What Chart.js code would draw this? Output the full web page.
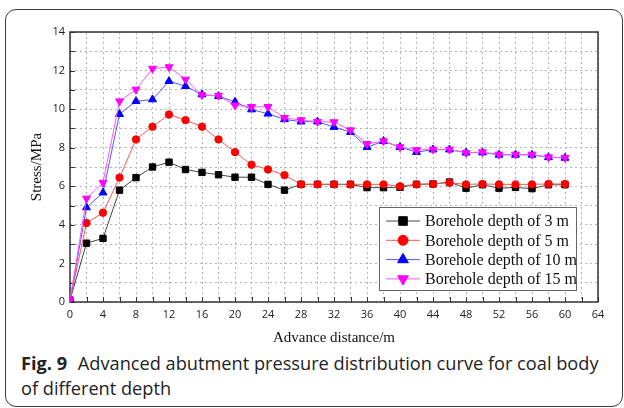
<!DOCTYPE html>
<html>
<head>
<meta charset="utf-8">
<script src="https://cdn.jsdelivr.net/npm/chart.js@4.4.0/dist/chart.umd.min.js"></script>
<style>
  body { margin: 0; background: #fff; }
  #wrap { position: relative; width: 624px; height: 408px; overflow: hidden; }
  #frame { position: absolute; left: 5px; top: 9px; width: 616px; height: 396px;
           border: 1.3px solid #3a3a3a; border-radius: 11px; }
  #chartBox { position: absolute; left: 0; top: 0; width: 624px; height: 350px; }
  #caption { position: absolute; left: 21px; top: 351px; width: 610px; white-space: nowrap;
             font-family: "Open Sans", sans-serif; font-size: 18.2px; line-height: 25px; color: #222; }
  #caption b { font-weight: 700; margin-right: 6px; }
</style>
</head>
<body>
<div id="wrap">
  <div id="frame"></div>
  <div id="chartBox"><canvas id="c" width="624" height="350"></canvas></div>
  <div id="caption"><b>Fig. 9</b> Advanced abutment pressure distribution curve for coal body<br>of different depth</div>
</div>
<script>
const distance = [0, 2, 4, 6, 8, 10, 12, 14, 16, 18, 20, 22, 24, 26, 28, 30,
  32, 34, 36, 38, 40, 42, 44, 46, 48, 50, 52, 54, 56, 58, 60];
const depth3 = [0.1, 3.05, 3.3, 5.8, 6.45, 7.0, 7.25, 6.87, 6.72, 6.6, 6.47, 6.47, 6.1, 5.8, 6.1, 6.1,
  6.1, 6.1, 5.93, 5.93, 5.95, 6.1, 6.12, 6.22, 5.9, 6.08, 5.9, 5.94, 5.88, 6.08, 6.08];
const depth5 = [0.1, 4.1, 4.63, 6.45, 8.43, 9.09, 9.72, 9.43, 9.09, 8.43, 7.77, 7.12, 6.87, 6.58, 6.1, 6.1,
  6.1, 6.1, 6.1, 6.1, 6.0, 6.1, 6.12, 6.18, 6.1, 6.12, 6.1, 6.1, 6.1, 6.12, 6.12];
const depth10 = [0.1, 4.9, 5.67, 9.74, 10.41, 10.5, 11.45, 11.19, 10.76, 10.67, 10.38, 9.98, 9.76, 9.47, 9.35, 9.35,
  9.07, 8.81, 8.03, 8.34, 8.03, 7.77, 7.9, 7.9, 7.74, 7.75, 7.63, 7.63, 7.63, 7.5, 7.47];
const depth15 = [0.1, 5.37, 6.19, 10.41, 11.02, 12.1, 12.18, 11.54, 10.73, 10.7, 10.2, 10.12, 10.12, 9.55, 9.43, 9.35,
  9.33, 8.91, 8.2, 8.34, 8.03, 7.88, 7.91, 7.91, 7.74, 7.77, 7.65, 7.65, 7.65, 7.51, 7.48];
const seriesLabels = ['Borehole depth of 3 m', 'Borehole depth of 5 m', 'Borehole depth of 10 m', 'Borehole depth of 15 m'];

const toPoints = (ys) => distance.map((x, i) => ({ x: x, y: ys[i] }));

const makeSet = (label, ys, line, fill, style, radius, rotation, order) => ({
  label: label,
  data: toPoints(ys),
  borderColor: line,
  borderWidth: 1,
  pointStyle: style,
  pointRotation: rotation,
  pointRadius: radius,
  pointBackgroundColor: fill,
  pointBorderColor: fill,
  pointBorderWidth: 1,
  order: order,
  tension: 0,
});

// ticks pointing into the plot, plus the plot frame
const frameTicks = {
  id: 'frameTicks',
  beforeDatasetsDraw(chart) {
    const { ctx, chartArea: a, scales } = chart;
    ctx.save();
    ctx.strokeStyle = '#333';
    ctx.lineWidth = 1;
    ctx.beginPath();
    scales.x.ticks.forEach(t => {
      const px = Math.round(scales.x.getPixelForValue(t.value)) + 0.5;
      ctx.moveTo(px, a.bottom); ctx.lineTo(px, a.bottom - 5);
    });
    scales.y.ticks.forEach(t => {
      const py = Math.round(scales.y.getPixelForValue(t.value)) + 0.5;
      ctx.moveTo(a.left, py); ctx.lineTo(a.left + 5, py);
    });
    ctx.stroke();
    ctx.lineWidth = 1.5;
    ctx.strokeRect(a.left, a.top, a.right - a.left, a.bottom - a.top);
    ctx.restore();
  }
};

// legend box inside the plot, lower right
const boxLegend = {
  id: 'boxLegend',
  afterDraw(chart) {
    const { ctx, chartArea: a } = chart;
    const left = a.right - 219, top = a.bottom - 95, w = 197, h = 83;
    ctx.save();
    ctx.fillStyle = '#fff';
    ctx.fillRect(left, top, w, h);
    ctx.strokeStyle = '#666';
    ctx.lineWidth = 1;
    ctx.strokeRect(left + 0.5, top + 0.5, w, h);
    ctx.font = '16px "Liberation Serif", "Times New Roman", serif';
    ctx.textBaseline = 'middle';
    chart.data.datasets.forEach((ds, i) => {
      const y = top + 14 + i * 19.3;
      ctx.strokeStyle = ds.borderColor;
      ctx.lineWidth = 1;
      ctx.beginPath();
      ctx.moveTo(left + 7, y); ctx.lineTo(left + 41, y);
      ctx.stroke();
      ctx.fillStyle = ds.pointBackgroundColor;
      ctx.strokeStyle = ds.pointBorderColor;
      Chart.helpers.drawPoint(ctx, {
        pointStyle: ds.pointStyle, rotation: ds.pointRotation,
        radius: ds.pointRadius * 1.35, borderWidth: 1
      }, left + 24, y);
      ctx.fillStyle = '#111';
      ctx.fillText(ds.label, left + 46, y + 1);
    });
    ctx.restore();
  }
};

const tickFont = { family: '"Open Sans", sans-serif', size: 11 };
const titleFont = { family: '"Liberation Serif", "Times New Roman", serif', size: 15 };

new Chart(document.getElementById('c'), {
  type: 'line',
  data: {
    datasets: [
      makeSet(seriesLabels[0], depth3, '#444', '#000', 'rect', 4.5, 0, 3),
      makeSet(seriesLabels[1], depth5, '#ff5555', '#ff0000', 'circle', 3.7, 0, 2),
      makeSet(seriesLabels[2], depth10, '#5555ff', '#0000ff', 'triangle', 4.6, 0, 1),
      makeSet(seriesLabels[3], depth15, '#ff55ff', '#ff00ff', 'triangle', 4.6, 180, 0),
    ]
  },
  options: {
    responsive: false,
    animation: false,
    layout: { padding: { top: 32, right: 26, left: 0, bottom: 0 } },
    plugins: { legend: { display: false }, tooltip: { enabled: false } },
    scales: {
      x: {
        type: 'linear', min: 0, max: 64,
        afterFit: (s) => { s.height = 48; },
        ticks: {
          stepSize: 2, padding: 6, color: '#222', font: tickFont, maxRotation: 0, autoSkip: false,
          callback: (v) => (v % 4 === 0 ? String(v) : '')
        },
        grid: { color: '#b4b4b4', lineWidth: 1, drawTicks: false },
        border: { display: false, dash: [2, 3] },
        title: { display: true, text: 'Advance distance/m', font: titleFont, color: '#111', padding: { top: 0, bottom: 3 } }
      },
      y: {
        min: 0, max: 14,
        afterFit: (s) => { s.width = 70; },
        ticks: {
          stepSize: 1, padding: 5, color: '#222', font: tickFont, autoSkip: false,
          callback: (v) => (v % 2 === 0 ? String(v) : '')
        },
        grid: { color: '#b4b4b4', lineWidth: 1, drawTicks: false },
        border: { display: false, dash: [2, 3] },
        title: { display: true, text: 'Stress/MPa', font: titleFont, color: '#111', padding: { top: 28, bottom: 0 } }
      }
    }
  },
  plugins: [frameTicks, boxLegend]
});
</script>
</body>
</html>
